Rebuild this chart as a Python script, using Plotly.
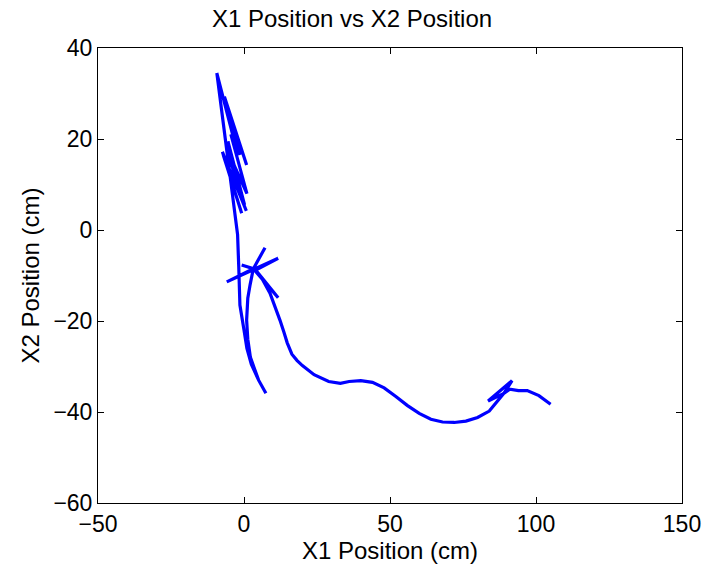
import plotly.graph_objects as go

# Trajectory samples (X1 position, X2 position), in cm
x1_pos = [
    0.8, -7.4, -0.8, -7.1, 0.2, -5.5, -0.5, -6.0, 1.0, -4.5, -1.4, -6.2, 0.9, -6.7, -3.5,
    -9.3, -7.6, -5.6, -3.9, -2.7, -2.2, -1.8, -1.4, 0.0, 1.0, 2.5, 5.0, 7.5,
    5.0, 2.2, 1.3, 0.9, 1.3, 2.1, 2.8, 3.2,
    -0.8, 3.2, 7.2, 3.2, -5.9, 11.7, 4.0, 11.7, 3.2,
    6.0, 8.9, 10.5, 12.3, 13.6, 14.8, 16.4, 18.2, 20.0, 24.0, 29.0, 33.0, 36.0, 40.0, 44.0, 48.0,
    52.0, 56.0, 60.0, 64.0, 68.0, 72.0, 76.0, 80.0, 84.0, 87.1, 89.0,
    91.8, 83.6, 89.0, 91.0, 94.0, 97.0, 101.0, 105.0,
]
x2_pos = [
    4.2, 17.2, 3.7, 16.5, 5.5, 19.5, 6.5, 18.0, 8.0, 21.0, 16.5, 28.2, 14.3, 29.3, 20.0,
    34.5, 26.0, 16.0, 8.0, 2.5, -1.0, -8.0, -16.5, -22.0, -26.0, -29.5, -33.0, -35.9,
    -33.0, -28.0, -24.0, -19.8, -15.0, -12.0, -9.5, -8.5,
    -7.7, -8.5, -3.9, -8.5, -11.4, -6.2, -8.8, -14.9, -8.5,
    -10.5, -13.9, -16.5, -19.8, -22.3, -24.8, -27.3, -28.7, -29.8, -31.8, -33.3, -33.7, -33.3, -33.1, -33.5, -34.7,
    -36.6, -38.6, -40.3, -41.6, -42.2, -42.3, -42.0, -41.2, -39.8, -37.4, -35.9,
    -33.1, -37.6, -35.9, -35.0, -35.3, -35.3, -36.4, -38.3,
]

x_ticks = [-50, 0, 50, 100, 150]
y_ticks = [-60, -40, -20, 0, 20, 40]

fig = go.Figure()
fig.add_trace(go.Scatter(
    x=x1_pos, y=x2_pos, mode="lines",
    line=dict(color="#0000FF", width=3.2),
    showlegend=False,
))

font_family = "Liberation Sans, Arial, sans-serif"
axis_common = dict(
    showgrid=False, zeroline=False,
    showline=True, linecolor="black", linewidth=1, mirror="ticks",
    ticks="inside", ticklen=6, tickcolor="black", tickwidth=1,
    tickfont=dict(family=font_family, size=23, color="black"),
)

fig.update_layout(
    width=704, height=569,
    margin=dict(l=98, r=22, t=48, b=66),
    paper_bgcolor="white", plot_bgcolor="white",
    title=dict(text="X1 Position vs X2 Position", x=0.5, xanchor="center",
               y=0.968, yanchor="middle",
               font=dict(family=font_family, size=24, color="black")),
    xaxis=dict(range=[-50, 150], tickvals=x_ticks, automargin=False,
               title=dict(text="X1 Position (cm)", standoff=0,
                          font=dict(family=font_family, size=24, color="black")),
               **axis_common),
    yaxis=dict(range=[-60, 40], tickvals=y_ticks, automargin=False,
               title=dict(text="X2 Position (cm)", standoff=6,
                          font=dict(family=font_family, size=24, color="black")),
               **axis_common),
)

fig.write_html("out.html")
